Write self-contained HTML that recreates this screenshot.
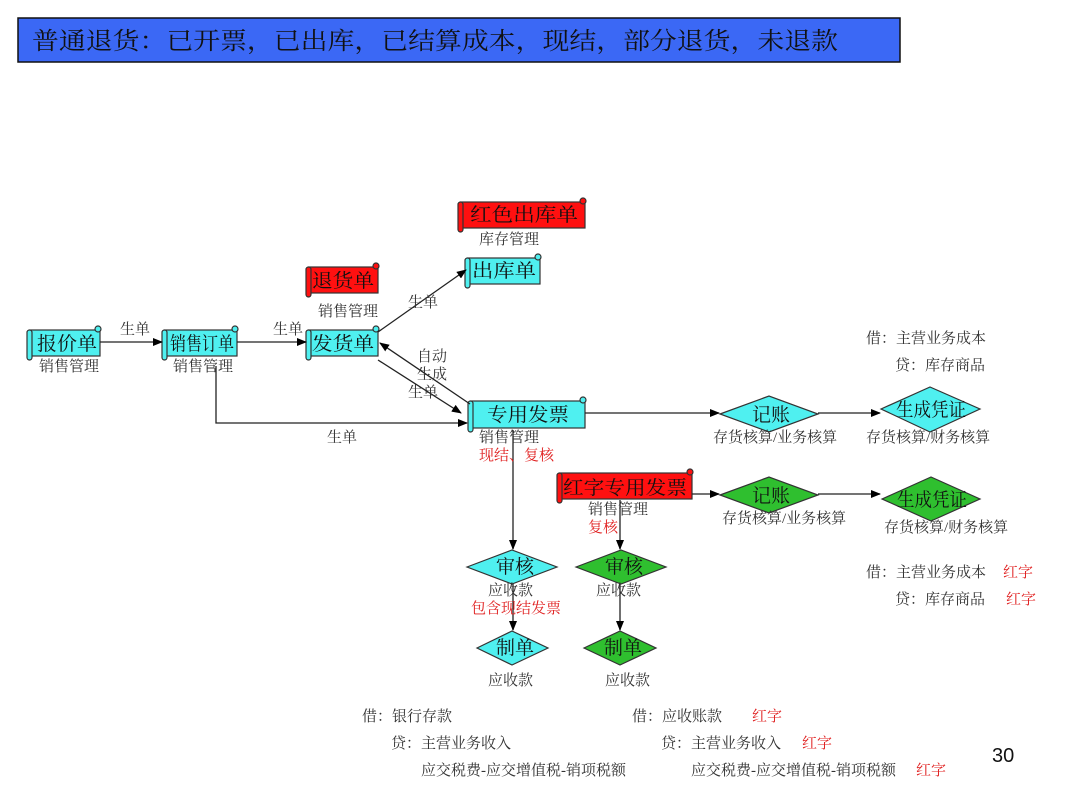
<!DOCTYPE html>
<html><head><meta charset="utf-8"><style>
html,body{margin:0;padding:0;background:#fff;}
svg{display:block;}
text{font-family:"Liberation Serif","Noto Serif CJK SC",serif;}
.s{font-size:15px;fill:#333;}
.r{font-size:15px;fill:#e02020;}
.n{font-size:19px;fill:#111;}
</style></head><body>
<svg width="1080" height="810" viewBox="0 0 1080 810" xmlns="http://www.w3.org/2000/svg">
<defs>
<marker id="a" markerWidth="10" markerHeight="8" refX="9" refY="4" orient="auto" markerUnits="userSpaceOnUse">
<path d="M0,0 L10,4 L0,8 z" fill="#000"/></marker>
</defs>
<rect x="18" y="18" width="882" height="44" fill="#3b68f5" stroke="#111" stroke-width="1.5"/>
<text x="32" y="49" font-size="24" fill="#111" textLength="806" lengthAdjust="spacingAndGlyphs">普通退货：已开票，已出库，已结算成本，现结，部分退货，未退款</text>

<g stroke="#333" stroke-width="1.2">
<g fill="#4ff0f0">
<rect x="30" y="330" width="70" height="26"/><rect x="27" y="330" width="5" height="30" rx="2.5"/><circle cx="98" cy="329" r="3"/>
<rect x="165" y="330" width="72" height="26"/><rect x="162" y="330" width="5" height="30" rx="2.5"/><circle cx="235" cy="329" r="3"/>
<rect x="309" y="330" width="69" height="26"/><rect x="306" y="330" width="5" height="30" rx="2.5"/><circle cx="376" cy="329" r="3"/>
<rect x="468" y="258" width="72" height="26"/><rect x="465" y="258" width="5" height="30" rx="2.5"/><circle cx="538" cy="257" r="3"/>
<rect x="471" y="401" width="114" height="27"/><rect x="468" y="401" width="5" height="31" rx="2.5"/><circle cx="583" cy="400" r="3"/>
</g>
<g fill="#ff1010">
<rect x="309" y="267" width="69" height="26"/><rect x="306" y="267" width="5" height="30" rx="2.5"/><circle cx="376" cy="266" r="3"/>
<rect x="461" y="202" width="124" height="26"/><rect x="458" y="202" width="5" height="30" rx="2.5"/><circle cx="583" cy="201" r="3"/>
<rect x="560" y="473" width="132" height="26"/><rect x="557" y="473" width="5" height="30" rx="2.5"/><circle cx="690" cy="472" r="3"/>
</g>
<polygon points="720,414 769,396 818,414 769,432" fill="#4ff0f0"/>
<polygon points="881,409 930,387 980,409 930,432" fill="#4ff0f0"/>
<polygon points="720,495 769,477 818,495 769,513" fill="#2fbf2f"/>
<polygon points="882,499 931,477 980,499 931,521" fill="#2fbf2f"/>
<polygon points="467,567 512,550 557,567 512,584" fill="#4ff0f0"/>
<polygon points="576,567 621,550 666,567 621,584" fill="#2fbf2f"/>
<polygon points="477,648 512,631 548,648 512,665" fill="#4ff0f0"/>
<polygon points="584,648 620,631 656,648 620,665" fill="#2fbf2f"/>
</g>

<g stroke="#222" stroke-width="1.3" fill="none" marker-end="url(#a)">
<line x1="100" y1="342" x2="162" y2="342"/>
<line x1="237" y1="342" x2="306" y2="342"/>
<line x1="378" y1="332" x2="466" y2="270"/>
<line x1="470" y1="404" x2="380" y2="343"/>
<line x1="378" y1="360" x2="461" y2="413"/>
<polyline points="216,366 216,423 467,423"/>
<line x1="585" y1="413" x2="719" y2="413"/>
<line x1="818" y1="413" x2="880" y2="413"/>
<line x1="692" y1="494" x2="719" y2="494"/>
<line x1="818" y1="494" x2="880" y2="494"/>
<line x1="513" y1="430" x2="513" y2="549"/>
<line x1="513" y1="584" x2="513" y2="630"/>
<line x1="620" y1="500" x2="620" y2="549"/>
<line x1="620" y1="584" x2="620" y2="630"/>
</g>

<text class="n" x="37" y="350" textLength="60" lengthAdjust="spacingAndGlyphs">报价单</text>
<text class="n" x="170" y="350" textLength="64" lengthAdjust="spacingAndGlyphs">销售订单</text>
<text class="n" x="312" y="350" textLength="62" lengthAdjust="spacingAndGlyphs">发货单</text>
<text class="n" x="312" y="287" textLength="62" lengthAdjust="spacingAndGlyphs">退货单</text>
<text class="n" x="472" y="277" textLength="64" lengthAdjust="spacingAndGlyphs">出库单</text>
<text class="n" x="470" y="221" textLength="108" lengthAdjust="spacingAndGlyphs">红色出库单</text>
<text class="n" x="487" y="421" textLength="82" lengthAdjust="spacingAndGlyphs">专用发票</text>
<text class="n" x="563" y="494" textLength="124" lengthAdjust="spacingAndGlyphs">红字专用发票</text>
<text class="n" x="752" y="421" font-size="18">记账</text>
<text class="n" x="896" y="416" font-size="18" textLength="70" lengthAdjust="spacingAndGlyphs">生成凭证</text>
<text class="n" x="752" y="502" font-size="18">记账</text>
<text class="n" x="897" y="506" font-size="18" textLength="70" lengthAdjust="spacingAndGlyphs">生成凭证</text>
<text class="n" x="496" y="573" font-size="16">审核</text>
<text class="n" x="605" y="573" font-size="16">审核</text>
<text class="n" x="496" y="654" font-size="16">制单</text>
<text class="n" x="604" y="654" font-size="16">制单</text>

<text class="s" x="39" y="371">销售管理</text>
<text class="s" x="173" y="371">销售管理</text>
<text class="s" x="318" y="316">销售管理</text>
<text class="s" x="479" y="244">库存管理</text>
<text class="s" x="120" y="334">生单</text>
<text class="s" x="273" y="334">生单</text>
<text class="s" x="408" y="307">生单</text>
<text class="s" x="417" y="361">自动</text>
<text class="s" x="417" y="379">生成</text>
<text class="s" x="408" y="397">生单</text>
<text class="s" x="327" y="442">生单</text>
<text class="s" x="479" y="442">销售管理</text>
<text class="r" x="479" y="460">现结、复核</text>
<text class="s" x="588" y="514">销售管理</text>
<text class="r" x="588" y="532">复核</text>
<text class="s" x="713" y="442">存货核算/业务核算</text>
<text class="s" x="866" y="442">存货核算/财务核算</text>
<text class="s" x="722" y="523">存货核算/业务核算</text>
<text class="s" x="884" y="532">存货核算/财务核算</text>
<text class="s" x="488" y="595">应收款</text>
<text class="r" x="471" y="613">包含现结发票</text>
<text class="s" x="596" y="595">应收款</text>
<text class="s" x="488" y="685">应收款</text>
<text class="s" x="605" y="685">应收款</text>
<text class="s" x="866" y="343">借：主营业务成本</text>
<text class="s" x="895" y="370">贷：库存商品</text>
<text class="s" x="866" y="577">借：主营业务成本</text>
<text class="r" x="1003" y="577">红字</text>
<text class="s" x="895" y="604">贷：库存商品</text>
<text class="r" x="1006" y="604">红字</text>
<text class="s" x="362" y="721">借：银行存款</text>
<text class="s" x="391" y="748">贷：主营业务收入</text>
<text class="s" x="421" y="775">应交税费-应交增值税-销项税额</text>
<text class="s" x="632" y="721">借：应收账款</text>
<text class="r" x="752" y="721">红字</text>
<text class="s" x="661" y="748">贷：主营业务收入</text>
<text class="r" x="802" y="748">红字</text>
<text class="s" x="691" y="775">应交税费-应交增值税-销项税额</text>
<text class="r" x="916" y="775">红字</text>
<text x="992" y="762" font-size="20" fill="#111" style="font-family:'Liberation Sans',sans-serif">30</text>
</svg>
</body></html>
